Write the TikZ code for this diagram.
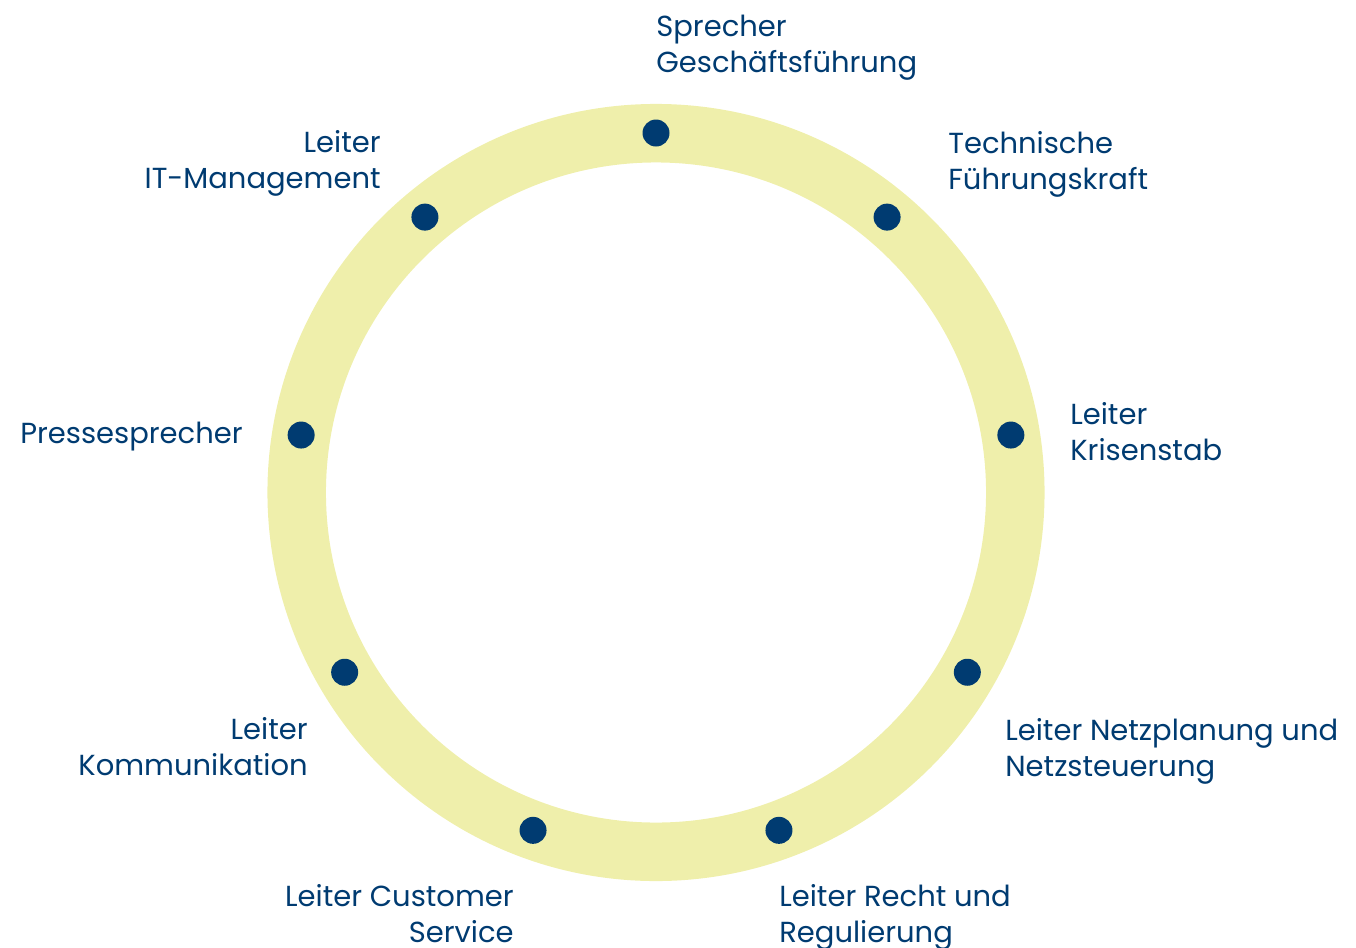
\documentclass[tikz,border=0pt]{standalone}
\usepackage{fontspec}
\setmainfont{Poppins}
\usetikzlibrary{calc}
\definecolor{ringyellow}{HTML}{EFEFAB}
\definecolor{navy}{HTML}{003B71}
\begin{document}
\begin{tikzpicture}[x=0.02cm,y=-0.02cm,
  dot/.style={circle,fill=navy,minimum size=27*0.02cm,inner sep=0pt},
  lbl/.style={text=navy,font=\fontsize{16.5pt}{20.4pt}\selectfont,inner sep=0pt},
  lbll/.style={lbl,align=left,anchor=base west},
  lblr/.style={lbl,align=right,anchor=base east}]
\useasboundingbox (0,0) rectangle (1356,947);
\coordinate (c) at (656,492.5);
\draw[ringyellow,line width=58.5*0.02cm] (c) circle[radius=359.3*0.02cm];
\foreach \a/\n in {90/d1,50/d2,9.2/d3,-30/d4,-70/d5,-110/d6,-150/d7,170.8/d8,130/d9}{
  \node[dot] (\n) at ($(c)+({359.5*cos(\a)},{-359.5*sin(\a)})$) {};
}
\node[lbll] (t1) at (656,72) {Sprecher\\Geschäftsführung};
\node[lbll] (t2) at (948,189) {Technische\\Führungskraft};
\node[lbll] (t3) at (1070,460) {Leiter\\Krisenstab};
\node[lbll] (t4) at (1005,776) {Leiter Netzplanung und\\Netzsteuerung};
\node[lbll] (t5) at (779,942) {Leiter Recht und\\Regulierung};
\node[lblr] (t6) at (514,942) {Leiter Customer\\Service};
\node[lblr] (t7) at (308,775) {Leiter\\Kommunikation};
\node[lblr] (t8) at (243,443) {Pressesprecher};
\node[lblr] (t9) at (381,188) {Leiter\\IT-Management};
\end{tikzpicture}
\end{document}
